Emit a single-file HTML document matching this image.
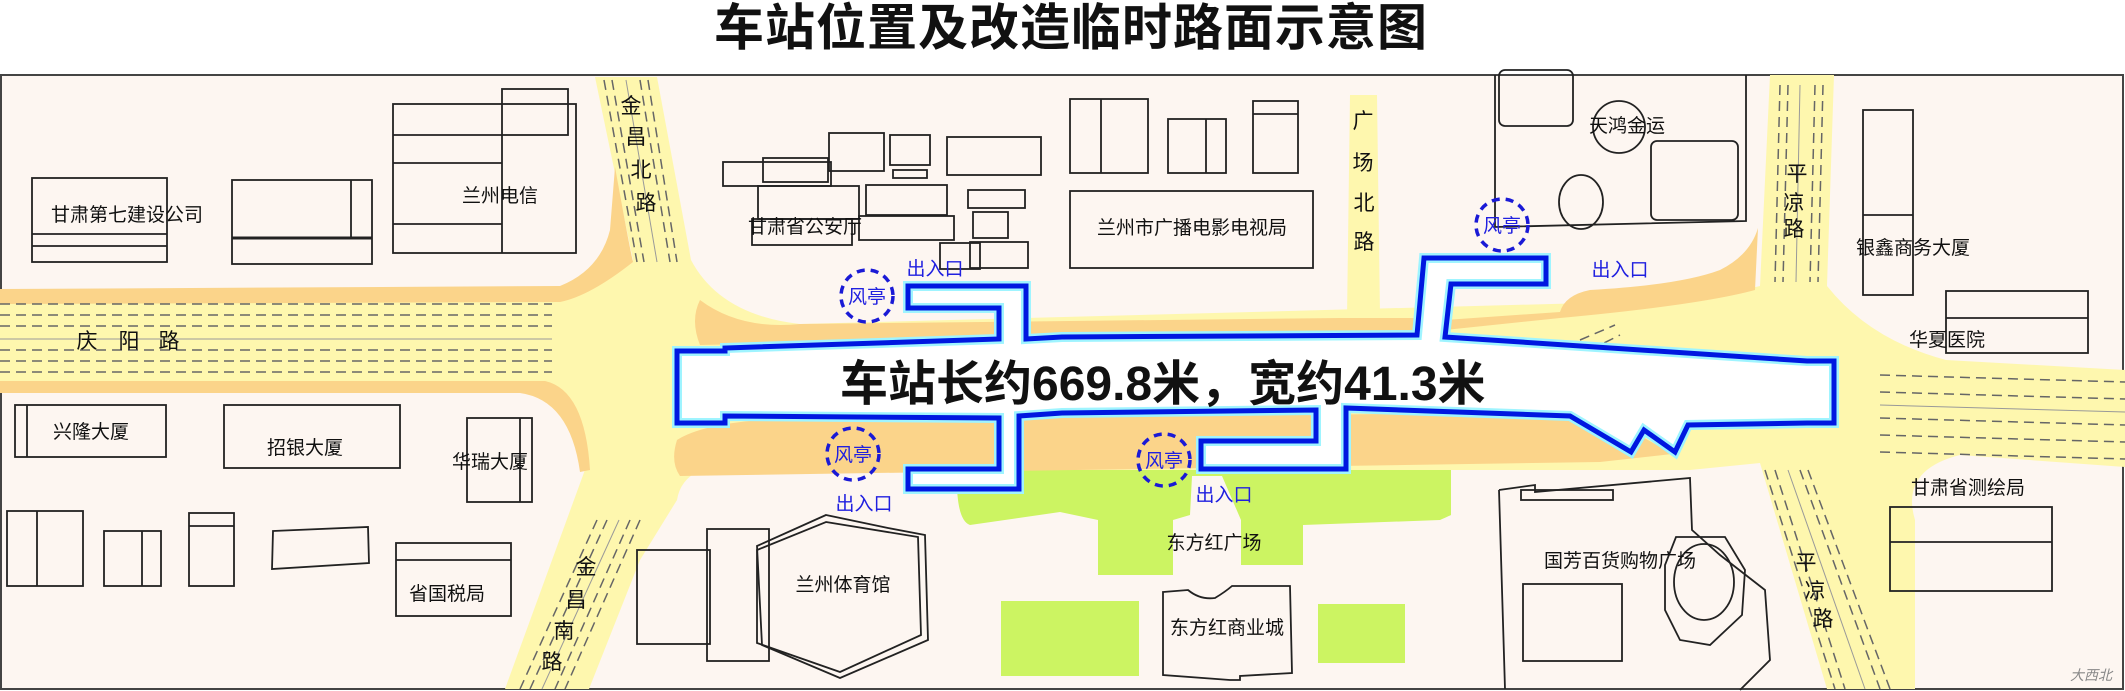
<!DOCTYPE html>
<html><head><meta charset="utf-8"><style>
html,body{margin:0;padding:0;background:#fff;}
svg{display:block;}
text{font-family:"Liberation Sans","Noto Sans CJK SC",sans-serif;}
</style></head><body>
<svg width="2125" height="691" viewBox="0 0 2125 691" xmlns="http://www.w3.org/2000/svg">
<rect width="2125" height="691" fill="#fff"/>
<text x="1071" y="45" font-size="50" font-weight="bold" text-anchor="middle" fill="#111" letter-spacing="1">车站位置及改造临时路面示意图</text>
<rect x="1" y="75" width="2122" height="614" fill="#fdf6f1" stroke="#444" stroke-width="2"/>

<!-- green -->
<g fill="#ccf462">
<path d="M957,465 L1451,465 L1451,515 Q1451,515 1440,520 L1303,525 L1303,565 L1241,565 L1241,520 L1222,476 L1192,476 L1190,515 L1173,520 L1173,575 L1098,575 L1098,520 L1060,512 L970,525 Q955,520 957,465Z"/>
<rect x="1001" y="601" width="138" height="75"/>
<rect x="1318" y="604" width="87" height="59"/>
</g>

<!-- roads yellow -->
<g fill="#fef7ae">
<rect x="0" y="289" width="580" height="104"/>
<path d="M595,77 L657,77 L691,260 Q720,315 800,324 L1700,300 L1760,286 L1770,75 L1834,75 L1827,286 Q1870,340 1946,360 L2125,370 L2125,467 L1960,455 Q1900,470 1915,520 L1915,689 L1827,689 L1760,463 L1690,470 L700,470 Q680,480 677,500 L640,560 L589,689 L505,689 L586,467 Q590,420 560,395 L560,289 Q620,275 633,260Z"/>
<path d="M1350,95 L1377,95 L1380,315 L1347,318Z"/>
</g>
<!-- orange -->
<g fill="#fbd48a">
<path d="M0,289 L560,286 Q600,270 610,230 L615,167 Q630,250 633,262 Q590,296 560,302 L0,304Z"/>
<path d="M0,381 L545,381 Q585,390 590,470 L580,472 Q570,400 520,393 L0,393Z"/>
<path d="M700,300 Q740,330 800,324 L1340,318 L1420,318 L1424,300 L1445,320 L1560,312 Q1565,295 1590,290 Q1680,285 1720,270 Q1750,255 1758,228 L1755,290 Q1700,305 1560,318 L1445,330 L700,345 Q690,320 700,300Z"/>
<path d="M677,440 Q700,425 760,420 L1600,412 L1672,454 L1600,462 L680,476 Q670,462 677,440Z"/>
</g>

<!-- lane markings -->
<g stroke="#666" stroke-width="1.5" fill="none" stroke-dasharray="10,6">
<line x1="0" y1="304" x2="552" y2="304"/><line x1="0" y1="315" x2="552" y2="315"/>
<line x1="0" y1="326" x2="552" y2="326"/><line x1="0" y1="350" x2="552" y2="350"/>
<line x1="0" y1="361" x2="552" y2="361"/><line x1="0" y1="372" x2="552" y2="372"/>
<line x1="1880" y1="375" x2="2125" y2="382"/><line x1="1880" y1="392" x2="2125" y2="399"/>
<line x1="1880" y1="418" x2="2125" y2="425"/><line x1="1880" y1="435" x2="2125" y2="442"/>
<line x1="1880" y1="452" x2="2125" y2="459"/>
<line x1="604" y1="80" x2="637" y2="262"/><line x1="612" y1="80" x2="644" y2="262"/>
<line x1="640" y1="80" x2="670" y2="262"/><line x1="648" y1="80" x2="677" y2="262"/>
<line x1="597" y1="520" x2="520" y2="689"/><line x1="607" y1="520" x2="530" y2="689"/>
<line x1="630" y1="520" x2="555" y2="689"/><line x1="640" y1="520" x2="565" y2="689"/>
<line x1="1780" y1="85" x2="1775" y2="282"/><line x1="1788" y1="85" x2="1783" y2="282"/>
<line x1="1815" y1="85" x2="1810" y2="282"/><line x1="1823" y1="85" x2="1818" y2="282"/>
<line x1="1765" y1="470" x2="1835" y2="689"/><line x1="1775" y1="470" x2="1845" y2="689"/>
<line x1="1800" y1="470" x2="1880" y2="689"/><line x1="1808" y1="470" x2="1890" y2="689"/>
<line x1="1580" y1="340" x2="1615" y2="325"/><line x1="1590" y1="350" x2="1620" y2="335"/>
</g>
<g stroke="#999" stroke-width="1" fill="none">
<line x1="0" y1="339" x2="552" y2="339"/><line x1="626" y1="80" x2="657" y2="262"/>
<line x1="619" y1="520" x2="542" y2="689"/><line x1="1800" y1="85" x2="1796" y2="282"/>
<line x1="1788" y1="470" x2="1865" y2="689"/><line x1="1880" y1="405" x2="2125" y2="412"/>
</g>

<!-- buildings -->
<g fill="none" stroke="#222" stroke-width="1.8">
<rect x="32" y="178" width="135" height="84"/><line x1="32" y1="234" x2="167" y2="234"/><line x1="32" y1="246" x2="167" y2="246"/>
<rect x="232" y="180" width="140" height="84"/><line x1="351" y1="180" x2="351" y2="238"/><line x1="232" y1="238" x2="372" y2="238" stroke-width="3"/>
<rect x="393" y="104" width="183" height="149"/><rect x="502" y="89" width="66" height="46"/>
<line x1="393" y1="135" x2="502" y2="135"/><line x1="393" y1="163" x2="502" y2="163"/><line x1="393" y1="224" x2="502" y2="224"/><line x1="502" y1="135" x2="502" y2="253"/>
<rect x="15" y="405" width="151" height="52"/><line x1="27" y1="405" x2="27" y2="457"/>
<rect x="224" y="405" width="176" height="63"/>
<rect x="467" y="418" width="65" height="84"/><line x1="520" y1="418" x2="520" y2="502"/>
<rect x="7" y="511" width="76" height="75"/><line x1="37" y1="511" x2="37" y2="586"/>
<rect x="104" y="531" width="57" height="55"/><line x1="142" y1="531" x2="142" y2="586"/>
<rect x="189" y="513" width="45" height="73"/><line x1="189" y1="526" x2="234" y2="526"/>
<polygon points="273,531 368,527 369,563 272,569"/>
<rect x="396" y="543" width="115" height="73"/><line x1="396" y1="560" x2="511" y2="560"/>
<!-- 公安厅 cluster -->
<rect x="723" y="162" width="108" height="24"/><rect x="763" y="158" width="65" height="24"/>
<rect x="829" y="133" width="55" height="38"/><rect x="890" y="135" width="40" height="30"/><rect x="893" y="170" width="34" height="8"/>
<rect x="947" y="137" width="94" height="38"/>
<rect x="758" y="186" width="101" height="33"/><rect x="866" y="185" width="81" height="30"/>
<rect x="968" y="190" width="57" height="18"/><rect x="752" y="219" width="100" height="26"/>
<rect x="859" y="216" width="95" height="24"/><rect x="973" y="212" width="35" height="26"/>
<rect x="940" y="243" width="40" height="26"/><rect x="970" y="242" width="58" height="26"/>
<!-- 体育馆 -->
<rect x="637" y="550" width="73" height="94"/><rect x="707" y="529" width="62" height="132"/>
<polygon points="826,515 888,528 925,535 928,640 840,678 762,645 757,546"/>
<polygon points="826,522 918,537 921,635 840,672 757,643 757,550"/>
<!-- zoom2 buildings -->
<rect x="1070" y="99" width="78" height="74"/><line x1="1101" y1="99" x2="1101" y2="173"/>
<rect x="1168" y="119" width="58" height="54"/><line x1="1206" y1="119" x2="1206" y2="173"/>
<rect x="1253" y="101" width="45" height="72"/><line x1="1253" y1="114" x2="1298" y2="114"/>
<rect x="1070" y="191" width="243" height="77"/>
<path d="M1495,75 L1495,227 L1746,221 L1746,75"/>
<rect x="1499" y="70" width="74" height="56" rx="6"/>
<circle cx="1619" cy="127" r="26"/><ellipse cx="1581" cy="202" rx="22" ry="27"/>
<rect x="1651" y="141" width="87" height="79" rx="6"/>
<rect x="1863" y="110" width="50" height="185"/><line x1="1863" y1="215" x2="1913" y2="215"/>
<rect x="1946" y="291" width="142" height="62"/><line x1="1946" y1="318" x2="2088" y2="318"/>
<rect x="1890" y="507" width="162" height="84"/><line x1="1890" y1="542" x2="2052" y2="542"/>
<path d="M1499,490 L1535,485 L1535,492 L1690,478 L1692,530 L1720,555 L1765,590 L1770,660 L1740,690 M1499,490 L1505,689"/>
<rect x="1521" y="490" width="92" height="10"/>
<rect x="1523" y="584" width="99" height="77"/>
<ellipse cx="1704" cy="582" rx="30" ry="38"/>
<polygon points="1676,537 1725,537 1745,570 1742,615 1710,645 1680,640 1665,610 1665,565"/>
<path d="M1163,592 L1188,590 Q1200,600 1215,598 Q1225,592 1232,586 L1290,586 L1292,673 L1240,676 L1240,680 L1230,680 L1163,675Z"/>
</g>

<!-- station -->
<path d="M677,351 L725,351 L725,348 L999,339 L999,308 L908,308 L908,286 L1026,286 L1026,339 L1062,337 L1417,335 L1424,258 L1546,258 L1546,284 L1451,284 L1445,337 L1807,361 L1834,361 L1834,423 L1807,423 L1688,425 L1675,452 L1644,430 L1631,452 L1604,436 L1570,416 L1346,408 L1346,469 L1201,469 L1201,441 L1316,441 L1316,410 L1062,413 L1019,416 L1019,489 L908,489 L908,469 L999,469 L999,418 L725,416 L725,423 L677,423Z" fill="#fff" stroke="#9ff4ff" stroke-width="10"/>
<path d="M677,351 L725,351 L725,348 L999,339 L999,308 L908,308 L908,286 L1026,286 L1026,339 L1062,337 L1417,335 L1424,258 L1546,258 L1546,284 L1451,284 L1445,337 L1807,361 L1834,361 L1834,423 L1807,423 L1688,425 L1675,452 L1644,430 L1631,452 L1604,436 L1570,416 L1346,408 L1346,469 L1201,469 L1201,441 L1316,441 L1316,410 L1062,413 L1019,416 L1019,489 L908,489 L908,469 L999,469 L999,418 L725,416 L725,423 L677,423Z" fill="none" stroke="#0018e0" stroke-width="5"/>
<text x="840" y="400" font-size="48" font-weight="bold" fill="#111">车站长约669.8米，宽约41.3米</text>

<!-- 风亭 circles -->
<g fill="none" stroke="#1a1ad6" stroke-width="3.5" stroke-dasharray="8,6">
<circle cx="867" cy="296" r="26"/><circle cx="853" cy="454" r="26"/>
<circle cx="1164" cy="460" r="26"/><circle cx="1502" cy="225" r="26"/>
</g>
<g font-size="19" fill="#2020e0" text-anchor="middle">
<text x="867" y="303">风亭</text><text x="853" y="461">风亭</text>
<text x="1164" y="467">风亭</text><text x="1502" y="232">风亭</text>
<text x="935" y="275">出入口</text><text x="864" y="510">出入口</text>
<text x="1224" y="501">出入口</text><text x="1620" y="276">出入口</text>
</g>

<!-- labels -->
<g font-size="19" fill="#111" text-anchor="middle">
<text x="127" y="221">甘肃第七建设公司</text>
<text x="500" y="202">兰州电信</text>
<text x="805" y="233">甘肃省公安厅</text>
<text x="91" y="438">兴隆大厦</text>
<text x="305" y="454">招银大厦</text>
<text x="490" y="468">华瑞大厦</text>
<text x="447" y="600">省国税局</text>
<text x="843" y="591">兰州体育馆</text>
<text x="1192" y="234">兰州市广播电影电视局</text>
<text x="1627" y="132">天鸿金运</text>
<text x="1913" y="254">银鑫商务大厦</text>
<text x="1947" y="346">华夏医院</text>
<text x="1968" y="494">甘肃省测绘局</text>
<text x="1620" y="567">国芳百货购物广场</text>
<text x="1214" y="549">东方红广场</text>
<text x="1227" y="634">东方红商业城</text>
</g>
<g font-size="21" fill="#111" text-anchor="middle">
<text x="87" y="348">庆</text><text x="129" y="348">阳</text><text x="169" y="348">路</text>
<text x="631" y="113">金</text><text x="636" y="144">昌</text><text x="641" y="177">北</text><text x="646" y="210">路</text>
<text x="586" y="574">金</text><text x="576" y="607">昌</text><text x="564" y="638">南</text><text x="552" y="669">路</text>
<text x="1363" y="128">广</text><text x="1363" y="170">场</text><text x="1364" y="210">北</text><text x="1364" y="249">路</text>
<text x="1797" y="181">平</text><text x="1794" y="210">凉</text><text x="1794" y="236">路</text>
<text x="1806" y="570">平</text><text x="1815" y="598">凉</text><text x="1823" y="626">路</text>
</g>
<text x="2070" y="680" font-size="14" fill="#888" font-style="italic">大西北</text>
</svg>
</body></html>
